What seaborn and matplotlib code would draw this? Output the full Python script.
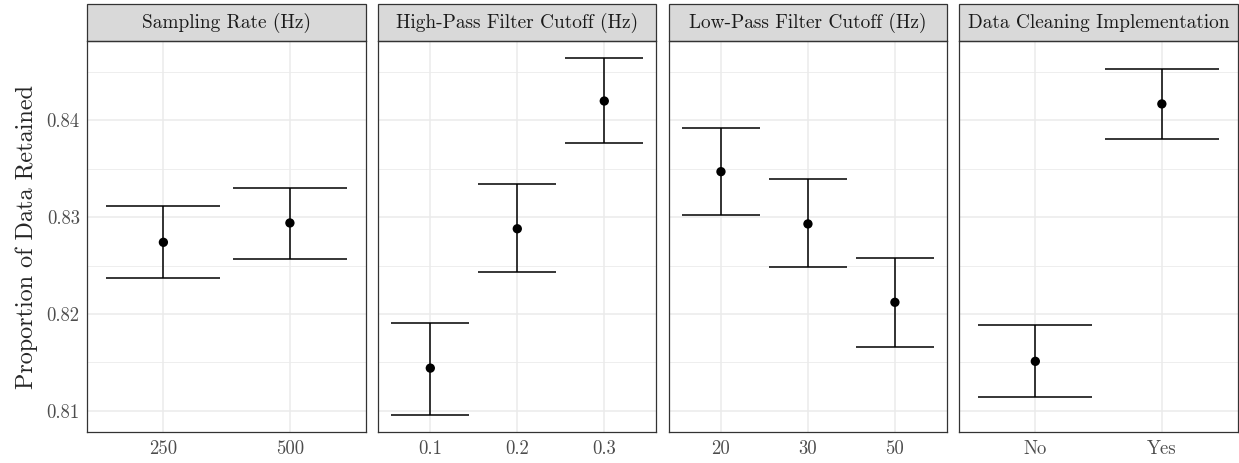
import matplotlib
matplotlib.use("Agg")
import matplotlib.pyplot as plt
import seaborn as sns
import numpy as np
import pandas as pd
from matplotlib.patches import Rectangle
from matplotlib.ticker import MultipleLocator

# values (mean and CI bounds per level)
facets = ['Sampling Rate (Hz)', 'High-Pass Filter Cutoff (Hz)',
          'Low-Pass Filter Cutoff (Hz)', 'Data Cleaning Implementation']
levels = [['250', '500'], ['0.1', '0.2', '0.3'], ['20', '30', '50'], ['No', 'Yes']]
means = [[0.8274, 0.8294], [0.8144, 0.8288, 0.8420], [0.8347, 0.8293, 0.8212], [0.8151, 0.8417]]
lower = [[0.8237, 0.8257], [0.8096, 0.8243, 0.8377], [0.8302, 0.8248, 0.8166], [0.8114, 0.8381]]
upper = [[0.8312, 0.8330], [0.8191, 0.8334, 0.8464], [0.8392, 0.8339, 0.8258], [0.8189, 0.8453]]

rows = []
for f, lv, m, lo, hi in zip(facets, levels, means, lower, upper):
    for i, name in enumerate(lv):
        rows.append({'facet': f, 'level': name, 'pos': i, 'mean': m[i], 'lo': lo[i], 'hi': hi[i]})
df = pd.DataFrame(rows)

sns.set_style('white')
plt.rcParams['font.family'] = ['cmr10', 'DejaVu Serif']
plt.rcParams['mathtext.fontset'] = 'cm'
plt.rcParams['axes.formatter.use_mathtext'] = True

fig, axes = plt.subplots(1, 4, figsize=(12.39, 4.63), dpi=100, sharey=True)
fig.subplots_adjust(left=0.0706, right=0.999, top=0.9114, bottom=0.067, wspace=0.0442)

strip_h = 37 / 391
for ax, f, lv in zip(axes, facets, levels):
    sub = df[df['facet'] == f]
    n = len(lv)
    ax.set_xlim(-0.6, n - 1 + 0.6)
    ax.set_ylim(0.8078, 0.8482)
    ax.yaxis.set_major_locator(MultipleLocator(0.01))
    ax.yaxis.set_minor_locator(MultipleLocator(0.005))
    ax.grid(which='major', color='#EBEBEB', lw=1.1, zorder=0)
    ax.grid(which='minor', axis='y', color='#EBEBEB', lw=0.6, zorder=0)
    ax.set_axisbelow(True)

    # error bars with caps of width 0.9
    ax.vlines(sub['pos'], sub['lo'], sub['hi'], color='black', lw=1.1, zorder=2)
    ax.hlines(sub['lo'], sub['pos'] - 0.45, sub['pos'] + 0.45, color='black', lw=1.1, zorder=2)
    ax.hlines(sub['hi'], sub['pos'] - 0.45, sub['pos'] + 0.45, color='black', lw=1.1, zorder=2)
    sns.scatterplot(data=sub, x='pos', y='mean', ax=ax, color='black', s=45,
                    edgecolor='none', zorder=3, legend=False)

    ax.set_xticks(range(n))
    ax.set_xticklabels(lv)
    ax.set_xlabel('')
    ax.set_ylabel('')
    ax.tick_params(axis='x', which='major', length=3.5, width=0.8, color='#333333',
                   labelcolor='#4D4D4D', labelsize=13.5, pad=2)
    ax.tick_params(axis='y', which='major', length=3.5, width=0.8, color='#333333',
                   labelcolor='#4D4D4D', labelsize=13.5, pad=2)
    ax.tick_params(axis='y', which='minor', length=0)
    for s in ax.spines.values():
        s.set_color('#333333')
        s.set_linewidth(0.9)

    ax.add_patch(Rectangle((0, 1), 1, strip_h, transform=ax.transAxes, clip_on=False,
                           facecolor='#D9D9D9', edgecolor='#333333', lw=0.9))
    ax.text(0.5, 1 + strip_h / 2, f, transform=ax.transAxes, ha='center', va='center',
            fontsize=13.9, color='#1A1A1A')

for ax in axes[1:]:
    ax.tick_params(axis='y', which='both', length=0, labelleft=False)

axes[0].set_yticks([0.81, 0.82, 0.83, 0.84])
axes[0].set_yticklabels(['0.81', '0.82', '0.83', '0.84'])
axes[0].set_ylabel('Proportion of Data Retained', fontsize=17.4, labelpad=6)

fig.savefig('out.png', dpi=100)
